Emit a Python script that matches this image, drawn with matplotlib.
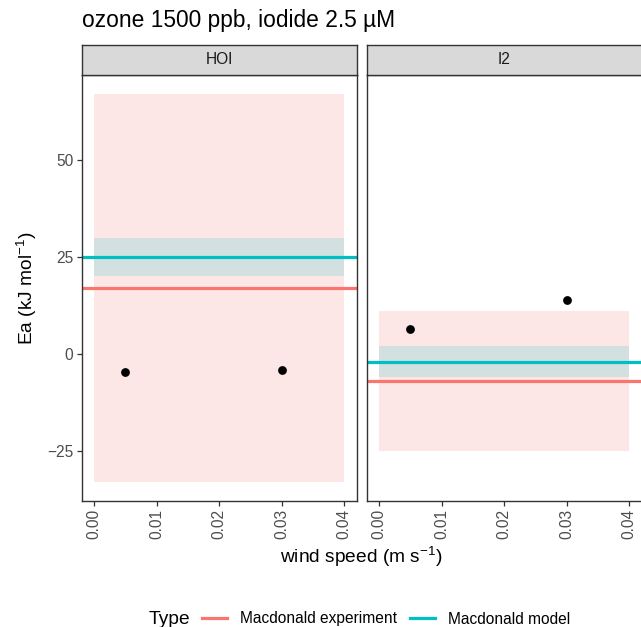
import matplotlib
matplotlib.use("Agg")
import matplotlib.pyplot as plt
from matplotlib.lines import Line2D
from matplotlib.patches import Rectangle

plt.rcParams["font.family"] = ["Liberation Sans", "DejaVu Sans"]
plt.rcParams["mathtext.fontset"] = "custom"
plt.rcParams["mathtext.rm"] = "Liberation Sans"
plt.rcParams["mathtext.it"] = "Liberation Sans:italic"
plt.rcParams["axes.unicode_minus"] = True

# Facets and measured activation energies
panels = ["HOI", "I2"]
wind_speed = [0.005, 0.03]
ea_points = {"HOI": [-4.6, -4.1], "I2": [6.4, 13.9]}

# Reference values (centre, half-width of uncertainty band)
experiment = {"HOI": (17, 50), "I2": (-7, 18)}
model = {"HOI": (25, 5), "I2": (-2, 4)}
band_x = (0.0, 0.04)

series_names = ["Macdonald experiment", "Macdonald model"]
series_colors = ["#F8766D", "#00BFC4"]

x_ticks = [0.00, 0.01, 0.02, 0.03, 0.04]
y_ticks = [-25, 0, 25, 50]

W, H = 641, 627
fig = plt.figure(figsize=(W / 100, H / 100), dpi=100)

def fx(px):
    return px / W

def fy(py):
    return 1 - py / H

panel_left = [81.5, 366.5]
panel_w = 275
panel_top, panel_bottom = 75, 501
strip_top = 45

tick_col = "#4D4D4D"
frame_col = "#333333"
small = 11.2
large = 13.8

axes = []
for i, name in enumerate(panels):
    ax = fig.add_axes([fx(panel_left[i]), fy(panel_bottom),
                       panel_w / W, (panel_bottom - panel_top) / H])
    axes.append(ax)
    # uncertainty bands
    for (c, hw), col in zip([experiment[name], model[name]], series_colors):
        ax.add_patch(Rectangle((band_x[0], c - hw), band_x[1] - band_x[0], 2 * hw,
                               facecolor=col, alpha=0.17, edgecolor="none", zorder=1))
    # central values
    for (c, hw), col in zip([experiment[name], model[name]], series_colors):
        ax.axhline(c, color=col, lw=2.3, zorder=2)
    ax.scatter(wind_speed, ea_points[name], s=40, color="black", zorder=3, linewidths=0)

    ax.set_xlim(-0.002, 0.042)
    ax.set_ylim(-38, 72)
    ax.set_xticks(x_ticks)
    ax.set_xticklabels([f"{t:.2f}" for t in x_ticks], rotation=90)
    ax.set_yticks(y_ticks)
    if i == 0:
        ax.set_yticklabels([str(t).replace("-", "\u2212") for t in y_ticks])
    else:
        ax.tick_params(axis="y", left=False, labelleft=False)
    ax.tick_params(colors=frame_col, labelcolor=tick_col, labelsize=small,
                   length=3.3, width=0.9, pad=2.5)
    for sp in ax.spines.values():
        sp.set_color(frame_col)
        sp.set_linewidth(1.0)
    ax.set_facecolor("white")

    sax = fig.add_axes([fx(panel_left[i]), fy(panel_top),
                        panel_w / W, (panel_top - strip_top) / H])
    sax.set_facecolor("#D9D9D9")
    sax.set_xticks([])
    sax.set_yticks([])
    for sp in sax.spines.values():
        sp.set_color(frame_col)
        sp.set_linewidth(1.0)
    sax.text(0.5, 0.5, name, ha="center", va="center", fontsize=small,
             color="#1A1A1A", transform=sax.transAxes)

fig.text(fx(82), fy(21), "ozone 1500 ppb, iodide 2.5 µM", fontsize=16.4,
         ha="left", va="center", color="black")
fig.text(fx(27), fy(288), r"Ea (kJ mol$^{-1}$)", rotation=90, fontsize=large,
         ha="center", va="center")
fig.text(fx(361), fy(557), r"wind speed (m s$^{-1}$)", fontsize=large,
         ha="center", va="center")

# legend
fig.text(fx(149), fy(619), "Type", fontsize=large, ha="left", va="center")
handles = [Line2D([], [], color=c, lw=2.3) for c in series_colors]
fig.legend(handles, series_names, loc="center left",
           bbox_to_anchor=(fx(202), fy(619)), ncol=2, frameon=False,
           fontsize=small, handlelength=1.6, handletextpad=0.83,
           columnspacing=0.83, borderaxespad=0, borderpad=0)

fig.savefig("out.png", dpi=100, facecolor="white")
